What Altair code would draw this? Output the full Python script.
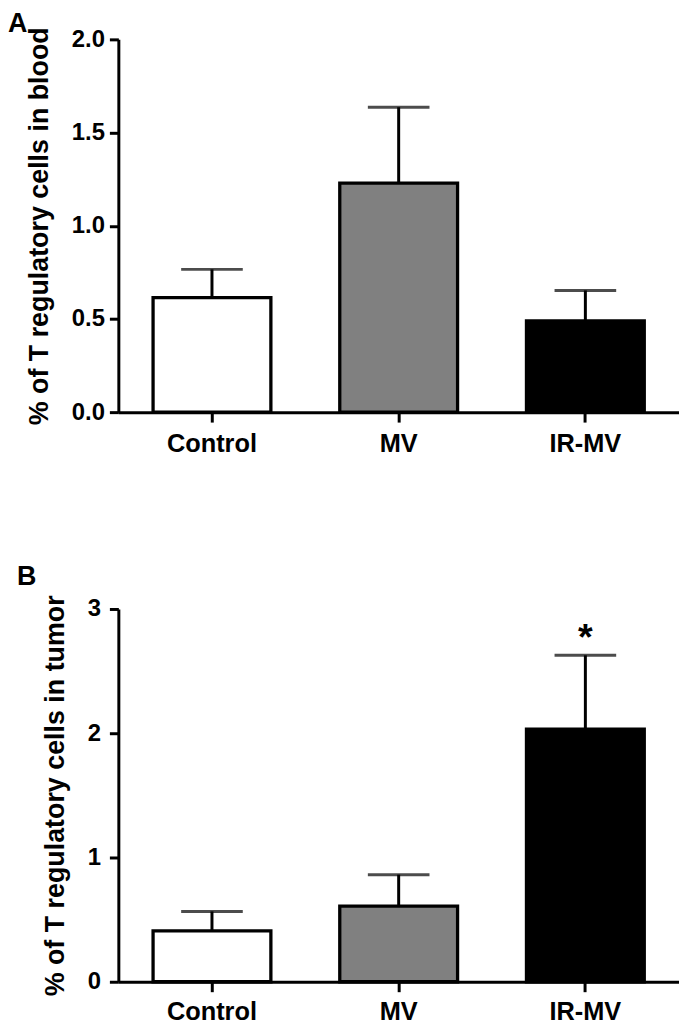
import altair as alt
import pandas as pd

groups = ["Control", "MV", "IR-MV"]
fills = ["#ffffff", "#808080", "#000000"]

blood_mean = [0.614, 1.229, 0.490]
blood_upper = [0.766, 1.636, 0.653]
blood_ticks = [0.0, 0.5, 1.0, 1.5, 2.0]

tumor_mean = [0.410, 0.608, 2.032]
tumor_upper = [0.566, 0.862, 2.627]
tumor_ticks = [0, 1, 2, 3]

star_group = ["IR-MV"]
star_y = [2.81]

FONT = "Liberation Sans"


def panel(mean, upper, ticks, fmt, ytitle, letter, letter_dx, letter_dy,
          label_pad, xlabel_pad, star=False):
    df = pd.DataFrame({"group": groups, "mean": mean, "upper": upper, "fill": fills})
    xs = alt.X(
        "group:N",
        sort=groups,
        scale=alt.Scale(paddingInner=0.369, paddingOuter=0.186),
        axis=alt.Axis(
            title=None, labelAngle=0, labelFontSize=25.5, labelFontWeight="bold",
            labelColor="black", labelPadding=xlabel_pad, tickSize=10, tickWidth=3,
            tickColor="black", domainWidth=3, domainColor="black",
        ),
    )
    yaxis = alt.Axis(
        values=ticks, format=fmt, title=ytitle, titleFontSize=27,
        titleFontWeight="bold", titleColor="black", titlePadding=18,
        labelFontSize=24, labelFontWeight="bold", labelColor="black",
        labelPadding=label_pad, tickSize=9, tickWidth=3, tickColor="black",
        domainWidth=3, domainColor="black", grid=False,
    )
    yscale = alt.Scale(domain=[ticks[0], ticks[-1]], nice=False)

    bars = alt.Chart(df).mark_bar(stroke="black", strokeWidth=3.3).encode(
        x=xs,
        y=alt.Y("mean:Q", scale=yscale, axis=yaxis),
        fill=alt.Fill("fill:N", scale=None),
    )
    stem = alt.Chart(df).mark_rule(color="black", strokeWidth=3).encode(
        x=alt.X("group:N", sort=groups),
        y=alt.Y("mean:Q", scale=yscale, axis=yaxis),
        y2="upper:Q",
    )
    cap = alt.Chart(df).mark_tick(
        color="black", thickness=3, size=62, orient="horizontal"
    ).encode(
        x=alt.X("group:N", sort=groups),
        y=alt.Y("upper:Q", scale=yscale, axis=yaxis),
    )
    layers = [bars, stem, cap]
    if star:
        sdf = pd.DataFrame({"group": star_group, "y": star_y, "label": ["*"]})
        layers.append(
            alt.Chart(sdf).mark_text(
                fontSize=38, fontWeight="bold", font=FONT, color="black",
                baseline="middle", dy=7,
            ).encode(
                x=alt.X("group:N", sort=groups),
                y=alt.Y("y:Q", scale=yscale, axis=yaxis),
                text="label:N",
            )
        )
    return alt.layer(*layers).properties(
        width=564,
        height=375,
        title=alt.Title(
            letter, anchor="start", frame="group", dx=letter_dx, dy=letter_dy,
            fontSize=27, fontWeight="bold", font=FONT, color="black", offset=2,
        ),
    )


pa = panel(blood_mean, blood_upper, blood_ticks, ".1f",
           "% of T regulatory cells in blood", "A", -111, 13, 5, 10)
pb = panel(tumor_mean, tumor_upper, tumor_ticks, "d",
           "% of T regulatory cells in tumor", "B", -102, -2.2, 9, 8, star=True)

chart = (
    alt.vconcat(pa, pb, spacing=105)
    .properties(padding={"left": 0, "top": -1.5, "right": 0, "bottom": 5})
    .configure_axis(labelFont=FONT, titleFont=FONT)
    .configure_view(stroke=None)
)

chart.save("out.html", embed_options={"renderer": "svg", "actions": False})
